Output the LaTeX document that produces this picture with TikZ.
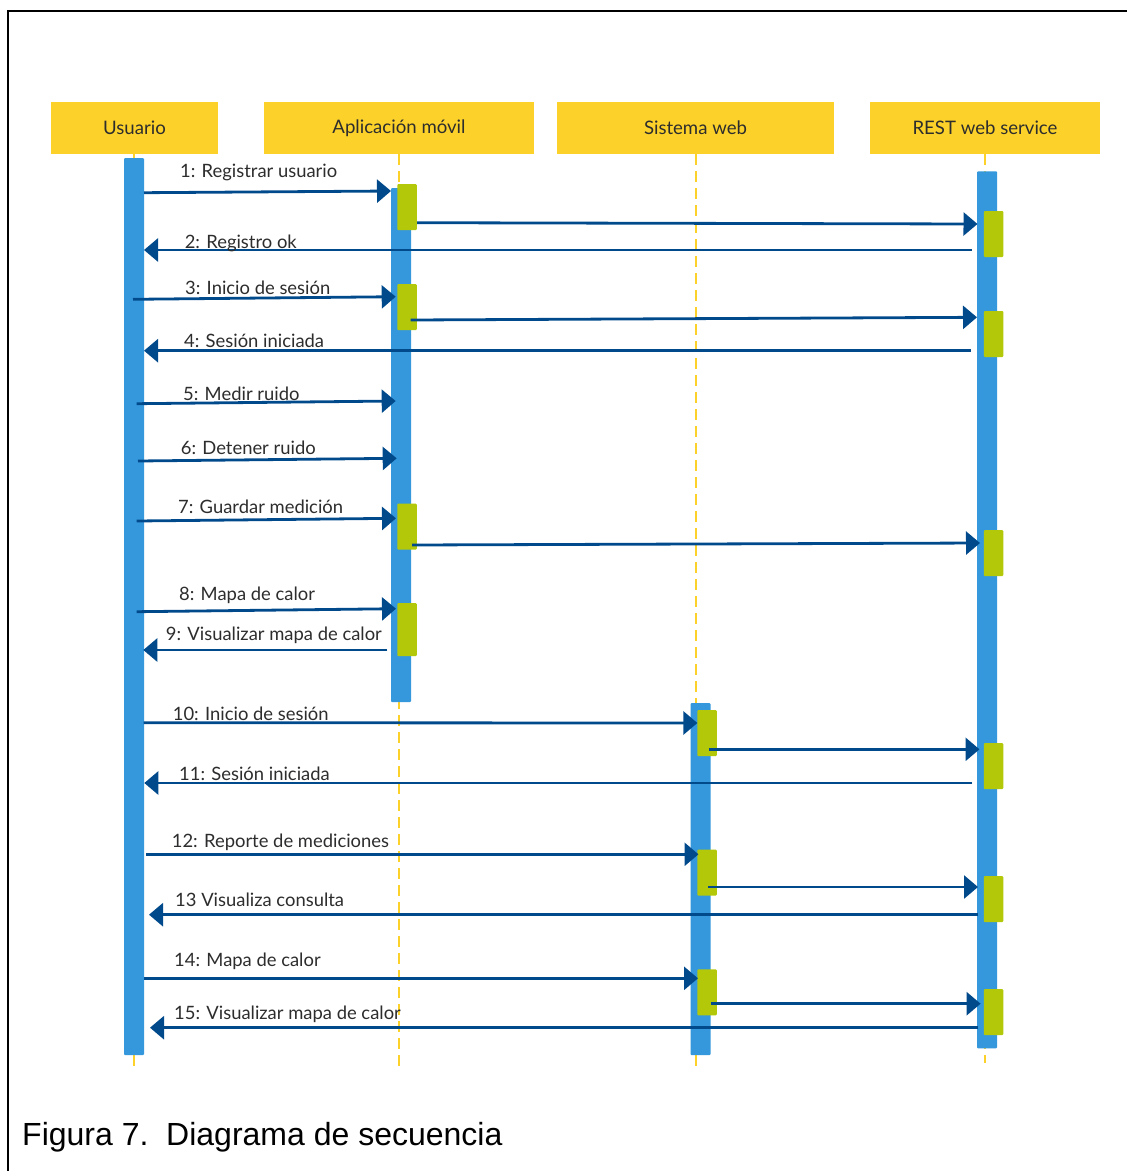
\documentclass[tikz,border=0pt]{standalone}
\usepackage{fontspec}
\setmainfont{Lato}
\newfontfamily\captionfont{Liberation Sans}
\usetikzlibrary{arrows.meta}
\definecolor{lifeyellow}{RGB}{252,210,42}
\definecolor{barblue}{RGB}{53,152,220}
\definecolor{actgreen}{RGB}{180,200,10}
\definecolor{msgblue}{RGB}{0,74,140}
\definecolor{labelgray}{RGB}{45,45,45}
\begin{document}
\begin{tikzpicture}[x=1pt,y=-1pt,
  header/.style={fill=lifeyellow, draw=none, inner sep=0pt, minimum height=52pt,
    text=labelgray, font=\fontsize{18.6}{20}\selectfont},
  lifeline/.style={draw=lifeyellow, line width=2.5pt, dash pattern=on 11pt off 6pt},
  bar/.style={fill=barblue, draw=none, inner sep=0pt, minimum width=20pt, rounded corners=1pt},
  act/.style={fill=actgreen, draw=none, inner sep=0pt, minimum width=19.5pt, minimum height=46pt, rounded corners=1pt},
  msg/.style={draw=msgblue, line width=2.8pt, -{Triangle[length=14pt,width=23pt]}},
  lbl/.style={anchor=base west, inner sep=0pt, text=labelgray, font=\fontsize{18.4}{20}\selectfont}]
\useasboundingbox (0,0) rectangle (1127,1171);
\fill[white] (0,0) rectangle (1127,1171);

% outer frame (left and top edges)
\coordinate (fBL) at (8,1171);
\coordinate (fTL) at (8,11);
\coordinate (fTR) at (1127,11);
\draw[line width=2.5pt] (fBL) -- (fTL) -- (fTR);

% participants
\node[header, minimum width=167pt] (hU) at (134.5,128) {Usuario};
\node[header, minimum width=270pt] (hA) at (399,128) {Aplicación móvil};
\node[header, minimum width=277pt] (hS) at (695.5,128) {Sistema web};
\node[header, minimum width=230pt] (hR) at (985,128) {REST web service};

% lifelines
\coordinate (eU) at (134,1070);
\coordinate (eA) at (399,1070);
\coordinate (eS) at (696,1070);
\coordinate (eR) at (985,1063);
\draw[lifeline] (hU.south -| eU) -- (eU);
\draw[lifeline] (hA.south -| eA) -- (eA);
\draw[lifeline] (hS.south -| eS) -- (eS);
\draw[lifeline] (hR.south -| eR) -- (eR);

% activation bars
\node[bar, minimum height=897pt] (bU) at (134,606.5) {};
\node[bar, minimum height=514pt] (bA) at (401,445) {};
\node[bar, minimum height=352pt] (bS) at (700.5,879) {};
\node[bar, minimum height=877pt] (bR) at (987,609.75) {};

% execution boxes
\node[act] (a1) at (407,207) {};
\node[act] (a2) at (407,307) {};
\node[act] (a3) at (407,526.7) {};
\node[act, minimum height=53pt] (a4) at (407,629.5) {};
\node[act] (s1) at (707,733) {};
\node[act] (s2) at (707,872.7) {};
\node[act] (s3) at (707,992.3) {};
\node[act] (r1) at (993.5,234) {};
\node[act] (r2) at (993.5,334) {};
\node[act] (r3) at (993.5,553) {};
\node[act] (r4) at (993.5,766) {};
\node[act] (r5) at (993.5,899) {};
\node[act] (r6) at (993.5,1012) {};

% message end points
\coordinate (m1a) at (144,192.7);   \coordinate (m1b) at (391,191);
\coordinate (n1a) at (417,222.7);   \coordinate (n1b) at (977.5,224);
\coordinate (m2a) at (971.5,250);   \coordinate (m2b) at (144,250);
\coordinate (m3a) at (133,299.3);   \coordinate (m3b) at (395.7,296.7);
\coordinate (n2a) at (410.7,320);   \coordinate (n2b) at (977,317.3);
\coordinate (m4a) at (971,350.7);   \coordinate (m4b) at (144,350.7);
\coordinate (m5a) at (136.7,403.7); \coordinate (m5b) at (395.7,401);
\coordinate (m6a) at (138,461);     \coordinate (m6b) at (396.7,458.3);
\coordinate (m7a) at (136.7,521);   \coordinate (m7b) at (396,518.3);
\coordinate (n3a) at (412,545);     \coordinate (n3b) at (980,543);
\coordinate (m8a) at (136.7,611.7); \coordinate (m8b) at (396,608.7);
\coordinate (m9a) at (387.3,650);   \coordinate (m9b) at (143.3,650);
\coordinate (m10a) at (143.7,722.7); \coordinate (m10b) at (697.4,723);
\coordinate (n4a) at (709.4,749.3);  \coordinate (n4b) at (979.5,749.3);
\coordinate (m11a) at (972.3,783);   \coordinate (m11b) at (144.3,783);
\coordinate (m12a) at (146,854.3);   \coordinate (m12b) at (698.5,854.3);
\coordinate (n5a) at (708.3,887);    \coordinate (n5b) at (978,887);
\coordinate (m13a) at (977.7,914.7); \coordinate (m13b) at (149,914.7);
\coordinate (m14a) at (144,978.3);   \coordinate (m14b) at (698,978.3);
\coordinate (n6a) at (711,1003.7);   \coordinate (n6b) at (980.6,1003.7);
\coordinate (m15a) at (978.4,1027.7); \coordinate (m15b) at (150,1027.7);

% messages
\foreach \m in {m1,n1,m2,m3,n2,m4,m5,m6,m7,n3,m8,m9,m10,n4,m11,m12,n5,m13,m14,n6,m15}
  \draw[msg] (\m a) -- (\m b);

% message labels
\node[lbl] (l1) at (180,177.7) {1: Registrar usuario};
\node[lbl] (l2) at (184.6,248) {2: Registro ok};
\node[lbl] (l3) at (185,294) {3: Inicio de sesión};
\node[lbl] (l4) at (184,347.7) {4: Sesión iniciada};
\node[lbl] (l5) at (183,400) {5: Medir ruido};
\node[lbl] (l6) at (180.7,454) {6: Detener ruido};
\node[lbl] (l7) at (178,513.7) {7: Guardar medición};
\node[lbl] (l8) at (179,600) {8: Mapa de calor};
\node[lbl] (l9) at (165.7,640) {9: Visualizar mapa de calor};
\node[lbl] (l10) at (172.7,720) {10: Inicio de sesión};
\node[lbl] (l11) at (179,780) {11: Sesión iniciada};
\node[lbl] (l12) at (171.7,847) {12: Reporte de mediciones};
\node[lbl] (l13) at (175,906) {13 Visualiza consulta};
\node[lbl] (l14) at (174,966) {14: Mapa de calor};
\node[lbl] (l15) at (174,1019) {15: Visualizar mapa de calor};

% caption
\node[anchor=base west, inner sep=0pt, font=\captionfont\fontsize{32}{35}\selectfont] (cap)
  at (22,1145) {Figura 7.~~Diagrama de secuencia};
\end{tikzpicture}
\end{document}
